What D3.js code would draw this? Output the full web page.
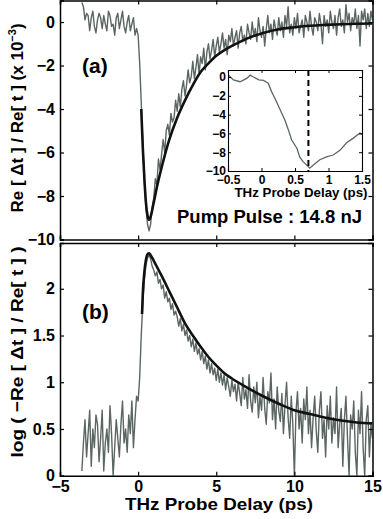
<!DOCTYPE html>
<html>
<head>
<meta charset="utf-8">
<script src="https://cdn.jsdelivr.net/npm/d3@7"></script>
<style>
  body { margin: 0; background: white; }
  text { font-family: "Liberation Sans", Arial, sans-serif; font-weight: bold; }
</style>
</head>
<body>
<div id="chart"></div>
<script>
// sampling of the measured traces (ps)
const traceStart = -3.6;
const traceStep = 0.1;

// (a) Re[dt]/Re[t] x 1e-3, measured
const reSignal = [
  0.9, 0.7, 0.1, 0.4, 0.3, -0.4, 0.2, 0.5, -0.2, -0.5, 0.1, 0.4, 0.2, -0.3, 0.3, -0.1, -0.4, 0.5,
  0.3, -0.2, -0.1, -0.6, 0.2, 0.4, -0.3, 0.1, 0.5, -0.2, -0.5, 0.0, 0.3, -0.4, -0.1, 0.2, -0.6, -0.3,
  -0.6, -1.9, -3.7, -5.6, -7.3, -8.5, -9.3, -9.6, -9.3, -8.5, -8.1,
  -7.2, -7.5, -6.3, -6.8, -6.1, -5.4, -6.0, -5.0, -4.7, -5.2,
  -4.2, -4.6, -4.4, -3.6, -4.1, -3.3, -3.9, -3.1, -2.7, -3.4,
  -2.9, -2.2, -2.8, -2.5, -1.8, -2.6, -2.1, -1.5, -2.4, -1.6,
  -1.9, -1.2, -2.2, -1.4, -1.0, -1.7, -1.3, -0.8, -1.6, -1.1,
  -0.7, -1.4, -1.0, -0.5, -1.2, -0.8, -1.5, -0.6, -0.9, -0.3,
  -1.1, -0.7, -0.4, -1.2, -0.5, -0.2, -0.9, -0.6, -1.0, -0.1,
  -0.5, -0.8, 0.0, -0.6, -0.3, -0.9, 0.2, -0.4, -0.7, -0.2,
  -1.1, -0.3, 0.3, -0.5, -0.1, -0.8, 0.1, -0.3, -0.6, 0.2,
  -0.4, 0.0, -0.7, 0.3, -0.2, 0.7, -0.5, -0.1, -0.6, 0.2,
  -0.3, 0.4, -0.5, -0.2, 0.1, -0.7, 0.3, 0.0, -0.4, 0.5,
  -0.2, -0.6, 0.2, 0.0, -0.4, 0.4, -0.1, -1.0, 0.3, -0.2,
  0.1, -0.5, 0.5, 0.0, -0.3, 0.3, -0.6, 0.2, 0.6, -0.2,
  0.1, -0.5, 0.8, 0.0, 0.4, -0.4, 0.2, -0.1, 0.6, -0.3,
  0.3, -1.1, 0.5, 0.1, 0.6, -0.3, 0.4, -0.2, 0.5, 0.1
];

// (b) log(-Re[dt]/Re[t]), measured
const logSignal = [
  0.05, 0.35, 0.6, 0.2, 0.45, 0.7, 0.1, 0.5, 0.3, 0.65, 0.55, 0.15, 0.4, 0.7, 0.05, 0.35, 0.5, 0.25,
  0.75, 0.45, 0.0, 0.3, 0.6, 0.4, 0.2, 0.55, 0.8, 0.35, 0.5, 0.25, 0.65, 0.45, 0.8, 0.3, 0.6, 0.85,
  0.8, 1.05, 1.5, 1.85, 2.1, 2.25, 2.33, 2.36, 2.32, 2.24, 2.2,
  2.14, 2.18, 2.06, 2.1, 2.0, 2.04, 1.9, 1.97, 1.86, 1.9,
  1.78, 1.84, 1.72, 1.76, 1.7, 1.6, 1.68, 1.55, 1.62, 1.5,
  1.56, 1.44, 1.5, 1.38, 1.46, 1.33, 1.42, 1.3, 1.36, 1.24,
  1.33, 1.2, 1.28, 1.14, 1.24, 1.1, 1.2, 1.08, 1.15, 1.02,
  1.14, 1.0, 1.1, 0.97, 1.08, 0.92, 1.05, 0.95, 0.85, 1.02,
  0.9, 0.98, 0.8, 1.0, 0.88, 0.75, 1.05, 0.82, 0.92, 0.72,
  1.08, 0.8, 0.68, 0.95, 0.78, 1.0, 0.62, 0.85, 0.7, 1.05,
  0.72, 0.55, 0.9, 0.78, 1.1, 0.6, 0.82, 0.5, 0.95, 0.7,
  0.58, 0.88, 0.45, 0.76, 1.0, 0.62, 0.4, 0.85, 0.55, 0.0,
  0.68, 0.9, 0.5, 0.72, 0.35, 0.82, 0.6, 0.95, 0.45, 0.7,
  0.3, 0.62, 0.85, 0.48, 0.25, 0.7, 0.9, 0.4, 0.6, 0.2,
  0.75, 0.5, 0.85, 0.35, 0.62, 0.45, 0.95, 0.3, 0.55, 0.72,
  0.1, 0.6, 0.85, 0.4, 0.0, 0.65, 0.5, 0.8, 0.25, 0.0,
  0.7, 0.45, 0.9, 0.3, 0.0, 0.6, 0.75, 0.2, 0.55, 0.4
];

// fits
const fitReT = [0.2, 0.3, 0.4, 0.5, 0.6, 0.7, 0.8, 1.0, 1.2, 1.5, 2.0, 2.5, 3.0, 3.5, 4.0, 4.5, 5.0, 5.5, 6.0, 7.0, 8.0, 9.0, 10, 11, 12, 13, 14, 15];
const fitReV = [-4.0, -5.8, -7.2, -8.3, -8.9, -9.1, -8.95, -8.3, -7.6, -6.7, -5.4, -4.4, -3.6, -2.9, -2.3, -1.9, -1.55, -1.3, -1.1, -0.75, -0.5, -0.33, -0.24, -0.17, -0.13, -0.1, -0.08, -0.07];
const fitLogT = [0.25, 0.3, 0.4, 0.5, 0.6, 0.7, 0.8, 1.0, 1.5, 2.0, 2.5, 3.0, 3.5, 4.0, 4.5, 5.0, 5.5, 6.0, 7.0, 8.0, 9.0, 10, 11, 12, 13, 14, 15];
const fitLogV = [1.73, 1.95, 2.18, 2.31, 2.37, 2.38, 2.36, 2.3, 2.14, 1.97, 1.8, 1.63, 1.5, 1.38, 1.27, 1.18, 1.1, 1.04, 0.94, 0.85, 0.77, 0.7, 0.66, 0.62, 0.59, 0.57, 0.56];

// inset: zoom on the minimum
const insetT = [-0.49, -0.42, -0.32, -0.22, -0.17, -0.12, -0.04, 0.03, 0.1, 0.15, 0.2, 0.28, 0.35, 0.4, 0.45, 0.53, 0.57, 0.62, 0.68, 0.72, 0.77, 0.87, 0.97, 1.07, 1.17, 1.27, 1.37, 1.47, 1.5];
const insetV = [0.2, -0.3, -0.5, -0.14, 0.2, 0.0, -0.3, -0.35, -0.65, -1.55, -2.25, -3.5, -4.6, -5.6, -6.7, -7.6, -8.5, -9.0, -9.4, -9.7, -9.4, -8.8, -8.5, -8.3, -7.8, -7.0, -6.5, -5.95, -6.1];
const dashAt = 0.7;

const xTicks = [-5, 0, 5, 10, 15];
const reTicks = [0, -2, -4, -6, -8, -10];
const logTicks = [0, 0.5, 1, 1.5, 2];
const insetXTicks = [-0.5, 0, 0.5, 1, 1.5];
const insetYTicks = [0, -2, -4, -6, -8, -10];

const width = 383, height = 519;
const grey = "#5b6663";

const svg = d3.select("#chart").append("svg")
  .attr("width", width).attr("height", height)
  .style("background", "white");

const defs = svg.append("defs");

const x = d3.scaleLinear().domain([-5, 15]).range([60, 372.5]);
const yA = d3.scaleLinear().domain([-10, 0.99]).range([239.5, 0.5]);
const yB = d3.scaleLinear().domain([0, 2.49]).range([475.7, 243]);

const traceT = reSignal.map((d, i) => traceStart + i * traceStep);

function panel(id, y, data, fitT, fitV, yTicks, fmt, showX) {
  const [y1, y0] = y.range();
  defs.append("clipPath").attr("id", id)
    .append("rect").attr("x", x.range()[0]).attr("y", y0)
    .attr("width", x.range()[1] - x.range()[0]).attr("height", y1 - y0);

  const g = svg.append("g");
  const plot = g.append("g").attr("clip-path", `url(#${id})`);

  plot.append("path")
    .datum(data)
    .attr("fill", "none")
    .attr("stroke", grey)
    .attr("stroke-width", 1.4)
    .attr("stroke-linejoin", "round")
    .attr("d", d3.line().x((d, i) => x(traceT[i])).y(d => y(d)));

  plot.append("path")
    .datum(fitV)
    .attr("fill", "none")
    .attr("stroke", "#111")
    .attr("stroke-width", 2.6)
    .attr("d", d3.line().curve(d3.curveMonotoneX).x((d, i) => x(fitT[i])).y(d => y(d)));

  // axes, ticks pointing inward, boxed
  g.append("g").attr("transform", `translate(${x.range()[0]},0)`)
    .call(d3.axisLeft(y).tickValues(yTicks).tickSize(-4).tickPadding(5).tickFormat(fmt));
  g.append("g").attr("transform", `translate(${x.range()[1]},0)`)
    .call(d3.axisRight(y).tickValues(yTicks).tickSize(-4).tickFormat(""));
  g.append("g").attr("transform", `translate(0,${y1})`)
    .call(d3.axisBottom(x).tickValues(xTicks).tickSize(-4).tickPadding(5)
      .tickFormat(showX ? d3.format("") : ""));
  g.append("g").attr("transform", `translate(0,${y0})`)
    .call(d3.axisTop(x).tickValues(xTicks).tickSize(-4).tickFormat(""));

  g.selectAll(".domain").attr("stroke", "#000").attr("stroke-width", 1.5);
  g.selectAll(".tick line").attr("stroke", "#000").attr("stroke-width", 1.2);
  g.selectAll(".tick text").attr("fill", "#000")
    .style("font-size", "16px").style("font-family", "'Liberation Sans', Arial, sans-serif")
    .style("font-weight", "bold");
  return g;
}

const minus = s => s.replace("-", "\u2212");

panel("clipA", yA, reSignal, fitReT, fitReV, reTicks, d => minus(String(d)), false);
panel("clipB", yB, logSignal, fitLogT, fitLogV, logTicks, d => String(d), true);

// panel labels
svg.append("text").attr("x", 82).attr("y", 73).style("font-size", "21px").text("(a)");
svg.append("text").attr("x", 82).attr("y", 319).style("font-size", "21px").text("(b)");

svg.append("text").attr("x", 362).attr("y", 223).attr("text-anchor", "end")
  .attr("textLength", 185).attr("lengthAdjust", "spacingAndGlyphs")
  .style("font-size", "18px").text("Pump Pulse : 14.8 nJ");

// axis titles
const yTitleA = svg.append("text")
  .attr("transform", "translate(23,118) rotate(-90)")
  .attr("text-anchor", "middle")
  .style("font-size", "17px");
yTitleA.append("tspan").text("Re [ \u0394t ] / Re[ t ] (x 10");
yTitleA.append("tspan").attr("dy", -7).style("font-size", "11px").text("\u22123");
yTitleA.append("tspan").attr("dy", 7).text(")");

svg.append("text")
  .attr("transform", "translate(23,352) rotate(-90)")
  .attr("text-anchor", "middle")
  .attr("textLength", 211).attr("lengthAdjust", "spacingAndGlyphs")
  .style("font-size", "17px")
  .text("log ( \u2212Re [ \u0394t ] / Re[ t ] )");

svg.append("text").attr("x", 219).attr("y", 510).attr("text-anchor", "middle")
  .attr("textLength", 188).attr("lengthAdjust", "spacingAndGlyphs")
  .style("font-size", "17px").text("THz Probe Delay (ps)");

// inset
const xi = d3.scaleLinear().domain([-0.5, 1.5]).range([228, 362]);
const yi = d3.scaleLinear().domain([-10, 0.75]).range([171, 70]);
const gi = svg.append("g");
gi.append("rect").attr("x", 228).attr("y", 70).attr("width", 134).attr("height", 101)
  .attr("fill", "white");
gi.append("path").datum(insetV)
  .attr("fill", "none").attr("stroke", grey).attr("stroke-width", 1.3)
  .attr("d", d3.line().x((d, i) => xi(insetT[i])).y(d => yi(d)));
gi.append("line")
  .attr("x1", xi(dashAt)).attr("x2", xi(dashAt))
  .attr("y1", yi.range()[1]).attr("y2", yi.range()[0])
  .attr("stroke", "#000").attr("stroke-width", 2).attr("stroke-dasharray", "6,4");
gi.append("g").attr("transform", "translate(228,0)")
  .call(d3.axisLeft(yi).tickValues(insetYTicks).tickSize(-3).tickPadding(2).tickFormat(d => minus(String(d))));
gi.append("g").attr("transform", "translate(362,0)")
  .call(d3.axisRight(yi).tickValues(insetYTicks).tickSize(-3).tickFormat(""));
gi.append("g").attr("transform", "translate(0,171)")
  .call(d3.axisBottom(xi).tickValues(insetXTicks).tickSize(-3).tickPadding(4).tickFormat(d => minus(String(d))));
gi.append("g").attr("transform", "translate(0,70)")
  .call(d3.axisTop(xi).tickValues(insetXTicks).tickSize(-3).tickFormat(""));
gi.selectAll(".domain").attr("stroke", "#000").attr("stroke-width", 1.1);
gi.selectAll(".tick line").attr("stroke", "#000");
gi.selectAll(".tick text").attr("fill", "#000")
  .style("font-size", "12px").style("font-family", "'Liberation Sans', Arial, sans-serif")
  .style("font-weight", "bold");
gi.append("text").attr("x", 301).attr("y", 197).attr("text-anchor", "middle")
  .attr("textLength", 133).attr("lengthAdjust", "spacingAndGlyphs")
  .style("font-size", "12px").text("THz Probe Delay (ps)");
</script>
</body>
</html>
